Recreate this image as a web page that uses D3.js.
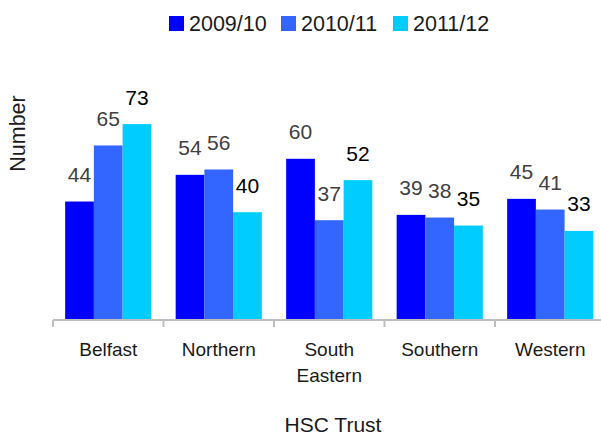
<!DOCTYPE html>
<html><head><meta charset="utf-8">
<script src="https://cdn.jsdelivr.net/npm/d3@7"></script>
<style>body{margin:0;background:#fff}svg{display:block}text{font-family:"Liberation Sans",Arial,Helvetica,sans-serif}</style>
</head><body>
<svg id="c" width="601" height="434"></svg>
<script>
const categories = ["Belfast", "Northern", "South Eastern", "Southern", "Western"];
const seriesNames = ["2009/10", "2010/11", "2011/12"];
const s2009 = [44, 54, 60, 39, 45];
const s2010 = [65, 56, 37, 38, 41];
const s2011 = [73, 40, 52, 35, 33];
const seriesValues = [s2009, s2010, s2011];
const colors = ["#0000FF", "#3366FF", "#00CCFF"];
const labelColors = ["#404040", "#404040", "#000000"];

const svg = d3.select("#c");
const x0 = d3.scaleBand().domain(categories).range([53, 605.5]).paddingInner(0.22).paddingOuter(0.11);
const x1 = d3.scaleBand().domain(seriesNames).range([0, x0.bandwidth()]);
const y = d3.scaleLinear().domain([0, 100]).range([319, 52]);

// bars
const g = svg.append("g");
categories.forEach((c, i) => {
  seriesNames.forEach((s, j) => {
    const v = seriesValues[j][i];
    g.append("rect").attr("x", x0(c) + x1(s)).attr("y", y(v))
      .attr("width", x1.bandwidth()).attr("height", y(0) - y(v)).attr("fill", colors[j]);
    g.append("text").attr("x", x0(c) + x1(s) + x1.bandwidth() / 2).attr("y", y(v) - 19.5)
      .attr("text-anchor", "middle").attr("font-size", 21).attr("fill", labelColors[j]).text(v);
  });
});

// x axis
const step = x0.step();
const ax = svg.append("g");
ax.append("line").attr("x1", 53).attr("x2", 606).attr("y1", 320).attr("y2", 320).attr("stroke", "#bfbfbf").attr("stroke-width", 2);
d3.range(categories.length + 1).forEach(k => {
  const xx = 53 + k * step;
  ax.append("line").attr("x1", xx).attr("x2", xx).attr("y1", 320).attr("y2", 327).attr("stroke", "#bfbfbf").attr("stroke-width", 2);
});
categories.forEach(c => {
  const words = c.split(" ");
  const t = ax.append("text").attr("x", x0(c) + x0.bandwidth() / 2).attr("y", 355.5)
    .attr("text-anchor", "middle").attr("font-size", 19).attr("fill", "#1a1a1a");
  words.forEach((w, k) => t.append("tspan").attr("x", x0(c) + x0.bandwidth() / 2).attr("dy", k ? 26.5 : 0).text(w));
});

svg.append("text").attr("x", 333).attr("y", 431.5).attr("text-anchor", "middle").attr("font-size", 21).attr("fill", "#1a1a1a").text("HSC Trust");
svg.append("text").attr("transform", "translate(25,133.5) rotate(-90)").attr("text-anchor", "middle").attr("font-size", 21.5).attr("fill", "#1a1a1a").text("Number");

// legend
const lg = svg.append("g");
seriesNames.forEach((s, j) => {
  const lx = 169 + j * 112;
  lg.append("rect").attr("x", lx).attr("y", 16).attr("width", 15).attr("height", 15).attr("fill", colors[j]);
  lg.append("text").attr("x", lx + 20).attr("y", 31).attr("font-size", 21.5).attr("fill", "#1a1a1a").text(s);
});
</script>
</body></html>
